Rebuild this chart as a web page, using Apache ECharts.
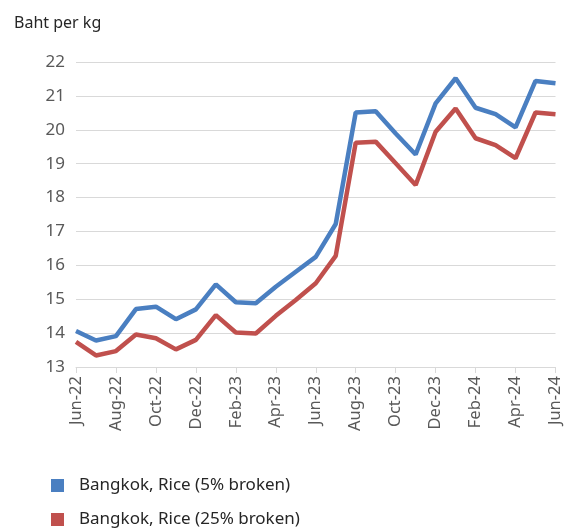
<!DOCTYPE html>
<html>
<head>
<meta charset="utf-8">
<script src="https://cdn.jsdelivr.net/npm/echarts@6/dist/echarts.min.js"></script>
<style>
html,body{margin:0;padding:0;background:#fff;}
#c{width:564px;height:529px;}
</style>
</head>
<body>
<div id="c"></div>
<script>
const categories = ['Jun-22','Jul-22','Aug-22','Sep-22','Oct-22','Nov-22','Dec-22','Jan-23','Feb-23','Mar-23','Apr-23','May-23','Jun-23','Jul-23','Aug-23','Sep-23','Oct-23','Nov-23','Dec-23','Jan-24','Feb-24','Mar-24','Apr-24','May-24','Jun-24'];
const rice5 = [14.06,13.78,13.91,14.71,14.78,14.41,14.70,15.44,14.91,14.88,15.37,15.81,16.25,17.22,20.51,20.55,19.89,19.27,20.78,21.52,20.65,20.46,20.07,21.44,21.37];
const rice25 = [13.74,13.34,13.47,13.96,13.85,13.52,13.80,14.53,14.02,13.99,14.51,14.98,15.47,16.28,19.62,19.65,19.01,18.37,19.94,20.63,19.75,19.55,19.16,20.51,20.46];
const seriesNames = ['Bangkok, Rice (5% broken)','Bangkok, Rice (25% broken)'];
const unitLabel = 'Baht per kg';

const chart = echarts.init(document.getElementById('c'), null, {renderer:'canvas'});
const font = 'Noto Sans';
chart.setOption({
  animation:false,
  backgroundColor:'#fff',
  title:{text:unitLabel,left:9,top:10,textStyle:{fontFamily:font,fontSize:16,fontWeight:'normal',color:'#262626'}},
  grid:{left:76,right:5,top:62,bottom:162,containLabel:false},
  legend:{
    orient:'vertical',left:51,top:477,padding:0,itemWidth:13,itemHeight:13,itemGap:17,icon:'rect',
    textStyle:{fontFamily:font,fontSize:17,color:'#262626',padding:[0,0,0,10]},
    data:seriesNames
  },
  xAxis:{
    type:'category',data:categories,boundaryGap:false,
    axisLine:{lineStyle:{color:'#d9d9d9',width:1}},
    axisTick:{show:true,interval:1,length:6,lineStyle:{color:'#d9d9d9'}},
    axisLabel:{interval:1,rotate:90,fontFamily:font,fontSize:16.5,color:'#595959',margin:9}
  },
  yAxis:{
    type:'value',min:13,max:22,interval:1,
    axisLine:{show:false},axisTick:{show:false},
    splitLine:{lineStyle:{color:'#d9d9d9',width:1}},
    axisLabel:{fontFamily:font,fontSize:17,color:'#595959',margin:11}
  },
  series:[
    {name:seriesNames[0],type:'line',data:rice5,symbol:'none',lineStyle:{width:4.5,color:'#4a7fc1'},itemStyle:{color:'#4a7fc1'}},
    {name:seriesNames[1],type:'line',data:rice25,symbol:'none',lineStyle:{width:4.5,color:'#c0504d'},itemStyle:{color:'#c0504d'}}
  ]
});
</script>
</body>
</html>
